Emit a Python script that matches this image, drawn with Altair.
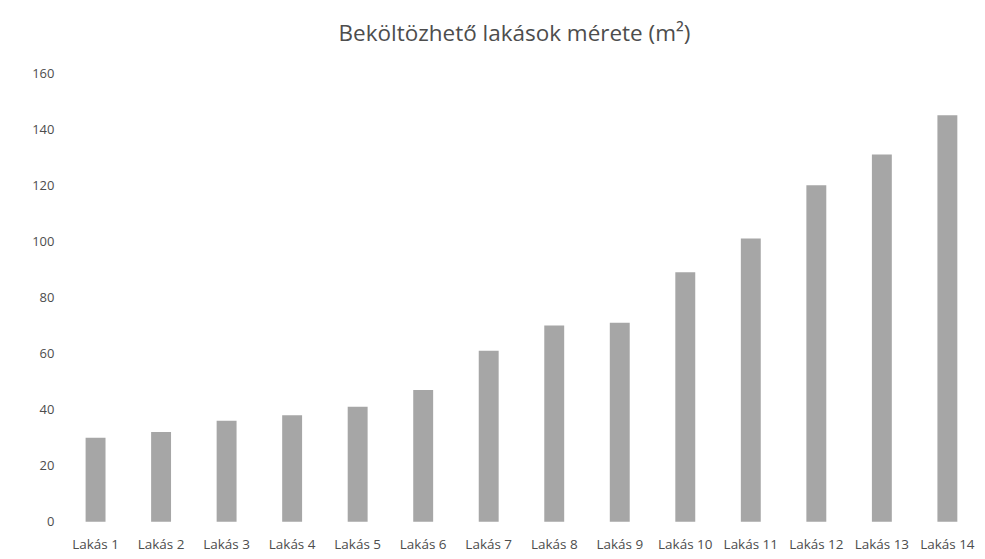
import altair as alt
import pandas as pd

categories = ["Lakás 1", "Lakás 2", "Lakás 3", "Lakás 4", "Lakás 5", "Lakás 6", "Lakás 7",
              "Lakás 8", "Lakás 9", "Lakás 10", "Lakás 11", "Lakás 12", "Lakás 13", "Lakás 14"]
values = [30, 32, 36, 38, 41, 47, 61, 70, 71, 89, 101, 120, 131, 145]
y_ticks = [0, 20, 40, 60, 80, 100, 120, 140, 160]

df = pd.DataFrame({"lakas": categories, "meret": values})

FONT = "Open Sans"
TXT = "#4d4d4d"

chart = alt.Chart(df).mark_bar(color="#a6a6a6").encode(
    x=alt.X("lakas:N", sort=categories,
            scale=alt.Scale(paddingInner=0.696, paddingOuter=0.3),
            axis=alt.Axis(title=None, labelAngle=0, domain=False, ticks=False,
                          labelPadding=16, labelFontSize=13.5, labelColor=TXT,
                          labelFont=FONT)),
    y=alt.Y("meret:Q", scale=alt.Scale(domain=[0, 160], nice=False),
            axis=alt.Axis(title=None, values=y_ticks, domain=False, ticks=False,
                          grid=False, labelPadding=12, labelFontSize=13,
                          labelColor=TXT, labelFont=FONT)),
).properties(
    width=912,
    height=449,
    title=alt.TitleParams("Beköltözhető lakások mérete (m²)", font=FONT,
                          fontSize=22.5, fontWeight="normal", color=TXT,
                          anchor="middle", offset=22, dx=-7),
    autosize=alt.AutoSizeParams(type="none"),
    padding={"left": 58, "top": 65, "right": 0, "bottom": 37},
).configure(background="white").configure_view(stroke=None, strokeWidth=0)

chart.save("out.html", embed_options={"renderer": "svg", "actions": False})
